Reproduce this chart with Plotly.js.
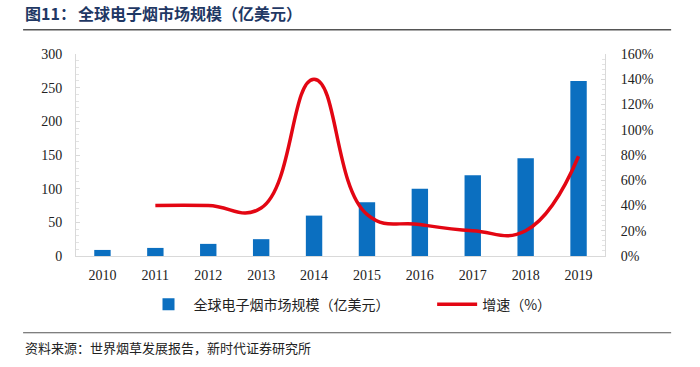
<!DOCTYPE html>
<html><head><meta charset="utf-8">
<script src="https://cdn.plot.ly/plotly-3.0.1.min.js"></script>
<style>body{margin:0;padding:0;background:#fff}#chart{width:700px;height:367px}</style>
</head><body><div id="chart"></div>
<script>
var years = ['2010','2011','2012','2013','2014','2015','2016','2017','2018','2019'];
var marketSize = [9, 12, 18, 25, 60, 80, 100, 120, 145, 260];
var growthYears = ['2011','2012','2013','2014','2015','2016','2017','2018','2019'];
var growthPct = [40, 40, 38, 140, 33, 25, 20, 20, 79];
var sizeName = '全球电子烟市场规模（亿美元）';
var growthName = '增速（%）';
var leftTicks = [0, 50, 100, 150, 200, 250, 300];
var rightTicks = [0, 20, 40, 60, 80, 100, 120, 140, 160];

var serif = '"Liberation Serif", "Times New Roman", serif';
var cjk = '"Noto Sans CJK SC", sans-serif';

var traces = [
  {type:'bar', x:years, y:marketSize, name:sizeName + '\u00a0\u00a0\u00a0\u00a0\u00a0\u00a0\u00a0\u00a0\u00a0\u00a0\u00a0\u00a0', marker:{color:'#0B6FC0'}, width:0.31},
  {type:'scatter', mode:'lines', x:growthYears, y:growthPct, name:growthName, yaxis:'y2',
   line:{color:'#E30613', width:3.5, shape:'spline', smoothing:1.3}}
];

var layout = {
  width:700, height:367,
  margin:{l:76, r:95, t:54, b:111},
  paper_bgcolor:'#fff', plot_bgcolor:'#fff',
  showlegend:true,
  legend:{orientation:'h', xref:'container', x:0.5, xanchor:'center', yref:'container', y:0.17, yanchor:'middle',
          font:{family:cjk, size:14, color:'#222'}, itemwidth:40, traceorder:'normal'},
  bargap:0.5,
  xaxis:{type:'category', showline:true, linecolor:'#d9d9d9', linewidth:1, ticks:'', showgrid:false,
         tickfont:{family:serif, size:14, color:'#222'}, ticklabelstandoff:6, zeroline:false},
  yaxis:{range:[0,300], tickvals:leftTicks, ticktext:leftTicks.map(String), showgrid:false, zeroline:false,
         showline:true, linecolor:'#d9d9d9', linewidth:1, ticks:'inside', ticklen:4, tickcolor:'#d9d9d9',
         minor:{dtick:10, ticks:'inside', ticklen:3, tickcolor:'#e3e3e3'},
         tickfont:{family:serif, size:14, color:'#222'}, ticklabelstandoff:10},
  yaxis2:{range:[0,160], overlaying:'y', side:'right', tickvals:rightTicks, ticktext:rightTicks.map(function(v){return v+'%';}),
         showgrid:false, zeroline:false, showline:true, linecolor:'#d9d9d9', linewidth:1,
         ticks:'inside', ticklen:4, tickcolor:'#d9d9d9',
         minor:{dtick:4, ticks:'inside', ticklen:3, tickcolor:'#e3e3e3'},
         tickfont:{family:serif, size:14, color:'#222'}, ticklabelstandoff:12},
  shapes:[
    {type:'line', xref:'paper', yref:'paper', x0:-0.1, x1:1.125, y0:1.12, y1:1.12, line:{color:'#555', width:1.5}},
    {type:'line', xref:'paper', yref:'paper', x0:-0.1, x1:1.125, y0:-0.38, y1:-0.38, line:{color:'#555', width:1}}
  ],
  annotations:[
    {xref:'paper', yref:'paper', x:-0.1, y:1.135, xanchor:'left', yanchor:'bottom', showarrow:false,
     text:'<b>图11：</b>', font:{family:cjk, size:16, color:'#1F3864'}},
    {xref:'paper', yref:'paper', x:0.0, y:1.135, xanchor:'left', yanchor:'bottom', showarrow:false,
     text:'<b>全球电子烟市场规模（亿美元）</b>', font:{family:cjk, size:16, color:'#1F3864'}},
    {xref:'paper', yref:'paper', x:-0.1, y:-0.395, xanchor:'left', yanchor:'top', showarrow:false,
     text:'资料来源：世界烟草发展报告，新时代证券研究所', font:{family:cjk, size:13, color:'#222'}}
  ]
};
Plotly.newPlot('chart', traces, layout, {displayModeBar:false, staticPlot:true});
</script></body></html>
